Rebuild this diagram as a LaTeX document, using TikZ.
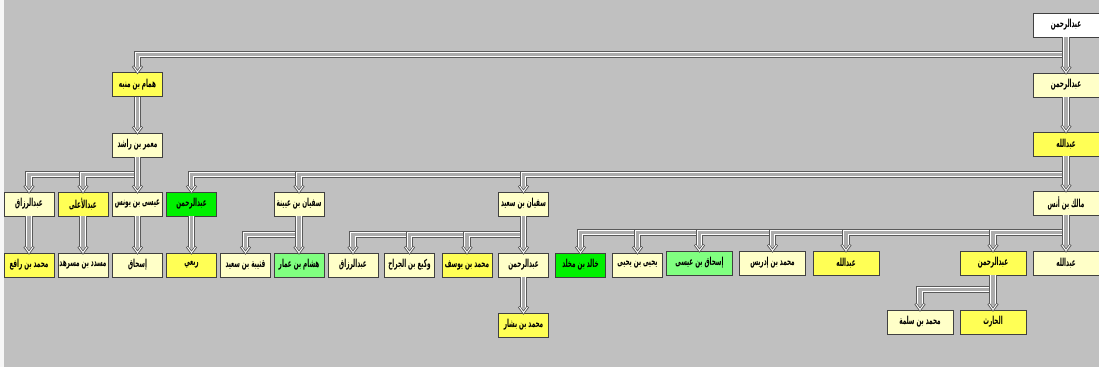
\documentclass[tikz,border=0pt]{standalone}
\usepackage{fontspec}
\newfontfamily\arabicfont[Script=Arabic,FakeStretch=0.52]{DejaVu Sans}
\TeXXeTstate=1
\usepackage{xcolor}
\usepackage{tikz}
\usetikzlibrary{decorations.markings}
\definecolor{bggray}{HTML}{C0C0C0}
\definecolor{pale}{HTML}{FFFFC8}
\definecolor{gold}{HTML}{FFFF55}
\definecolor{grn}{HTML}{00F000}
\definecolor{mint}{HTML}{80FF80}
\definecolor{boxline}{HTML}{404040}
\definecolor{pipeedge}{HTML}{5A5A5A}
\definecolor{pipecore}{HTML}{ACACAC}
\tikzset{
  rawi/.style={draw=boxline, line width=0.8pt, minimum width=50pt, minimum height=24pt, inner sep=1pt, font=\arabicfont\bfseries\fontsize{11}{12}\selectfont},
  rawiW/.style={rawi, minimum width=66pt},
  vhead/.style={decoration={markings, mark=at position 1 with {
      \draw[pipeedge, line width=2.6pt, shorten >=0pt] (-6pt,-4.5pt) -- (0,0) -- (-6pt,4.5pt);
      \draw[white, line width=0.9pt, shorten >=0pt] (-5.5pt,-4pt) -- (0,0) -- (-5.5pt,4pt);}}},
  pipe/.style={draw=pipeedge, line width=7.5pt, shorten >=5pt, vhead,
    postaction={draw=white, line width=5.8pt, shorten >=5pt},
    postaction={draw=pipecore, line width=3.4pt, shorten >=5pt},
    postaction={decorate}},
}
\begin{document}
\begin{tikzpicture}[x=1pt, y=-1pt]
\useasboundingbox (0,0) rectangle (1099,367);
% background
\fill[bggray] (0,0) rectangle (1099,367);
\fill[white!94!gray] (0,0) rectangle (4,367);
% right column
\node[rawiW, fill=white] (r0) at (1066,25) {\beginR عبدالرحمن\endR};
\node[rawiW, fill=pale] (r1) at (1066,85) {\beginR عبدالرحمن\endR};
\node[rawiW, fill=gold] (r2) at (1066,144) {\beginR عبدالله\endR};
% left column
\node[rawi, fill=gold] (hm) at (137.5,84.5) {\beginR همام بن منبه\endR};
\node[rawi, fill=pale] (mr) at (137.5,145) {\beginR معمر بن راشد\endR};
% level 1
\node[rawi, fill=pale] (a1) at (29,204) {\beginR عبدالرزاق\endR};
\node[rawi, fill=gold] (a2) at (83,204) {\beginR عبدالأعلى\endR};
\node[rawi, fill=pale] (a3) at (137.5,204) {\beginR عيسى بن يونس\endR};
\node[rawi, fill=grn] (b1) at (191.5,204) {\beginR عبدالرحمن\endR};
\node[rawi, fill=pale] (b2) at (299,204) {\beginR سفيان بن عيينة\endR};
\node[rawi, fill=pale] (b3) at (523.5,204) {\beginR سفيان بن سعيد\endR};
\node[rawiW, fill=pale] (b4) at (1066,203) {\beginR مالك بن أنس\endR};
% level 2
\node[rawi, fill=gold] (c1) at (29,265) {\beginR محمد بن رافع\endR};
\node[rawi, fill=pale] (c2) at (83,265) {\beginR مسدد بن مسرهد\endR};
\node[rawi, fill=pale] (c3) at (137.5,265) {\beginR إسحاق\endR};
\node[rawi, fill=gold] (c4) at (191.5,265) {\beginR ربعي\endR};
\node[rawi, fill=pale] (c5) at (245.5,265) {\beginR قتيبة بن سعيد\endR};
\node[rawi, fill=mint] (c6) at (299,265) {\beginR هشام بن عمار\endR};
\node[rawi, fill=pale] (c7) at (353,265) {\beginR عبدالرزاق\endR};
\node[rawi, fill=pale] (c8) at (409.5,265) {\beginR وكيع بن الجراح\endR};
\node[rawi, fill=gold] (c9) at (467,265) {\beginR محمد بن يوسف\endR};
\node[rawi, fill=pale] (c10) at (523.5,265) {\beginR عبدالرحمن\endR};
\node[rawi, fill=grn] (c11) at (580.5,265) {\beginR خالد بن مخلد\endR};
\node[rawi, fill=pale] (c12) at (637.5,265) {\beginR يحيى بن يحيى\endR};
\node[rawiW, fill=mint] (c13) at (699.5,263) {\beginR إسحاق بن عيسى\endR};
\node[rawiW, fill=pale] (c14) at (772.5,263) {\beginR محمد بن إدريس\endR};
\node[rawiW, fill=gold] (c15) at (846,263) {\beginR عبدالله\endR};
\node[rawiW, fill=gold] (c16) at (993,263) {\beginR عبدالرحمن\endR};
\node[rawiW, fill=pale] (c17) at (1066,263) {\beginR عبدالله\endR};
% level 3
\node[rawi, fill=gold] (d1) at (523.5,325) {\beginR محمد بن بشار\endR};
\node[rawiW, fill=pale] (d2) at (920,322) {\beginR محمد بن سلمة\endR};
\node[rawiW, fill=gold] (d3) at (993,322) {\beginR الحارث\endR};
% connectors, far branches first
\draw[pipe] (r0.south) -- ++(0,17) -| (hm.north);
\draw[pipe] (r0.south) -- (r1.north);
\draw[pipe] (r1.south) -- (r2.north);
\draw[pipe] (hm.south) -- (mr.north);
\draw[pipe] (mr.south) -- ++(0,17) -| (a1.north);
\draw[pipe] (mr.south) -- ++(0,17) -| (a2.north);
\draw[pipe] (mr.south) -- (a3.north);
\draw[pipe] (r2.south) -- ++(0,18) -| (b1.north);
\draw[pipe] (r2.south) -- ++(0,18) -| (b2.north);
\draw[pipe] (r2.south) -- ++(0,18) -| (b3.north);
\draw[pipe] (r2.south) -- (b4.north);
\draw[pipe] (a1.south) -- (c1.north);
\draw[pipe] (a2.south) -- (c2.north);
\draw[pipe] (a3.south) -- (c3.north);
\draw[pipe] (b1.south) -- (c4.north);
\draw[pipe] (b2.south) -- ++(0,18) -| (c5.north);
\draw[pipe] (b2.south) -- (c6.north);
\draw[pipe] (b3.south) -- ++(0,18) -| (c7.north);
\draw[pipe] (b3.south) -- ++(0,18) -| (c8.north);
\draw[pipe] (b3.south) -- ++(0,18) -| (c9.north);
\draw[pipe] (b3.south) -- (c10.north);
\draw[pipe] (c10.south) -- (d1.north);
\draw[pipe] (b4.south) -- ++(0,17) -| (c11.north);
\draw[pipe] (b4.south) -- ++(0,17) -| (c12.north);
\draw[pipe] (b4.south) -- ++(0,17) -| (c13.north);
\draw[pipe] (b4.south) -- ++(0,17) -| (c14.north);
\draw[pipe] (b4.south) -- ++(0,17) -| (c15.north);
\draw[pipe] (b4.south) -- ++(0,17) -| (c16.north);
\draw[pipe] (b4.south) -- (c17.north);
\draw[pipe] (c16.south) -- ++(0,14) -| (d2.north);
\draw[pipe] (c16.south) -- (d3.north);
\end{tikzpicture}
\end{document}
